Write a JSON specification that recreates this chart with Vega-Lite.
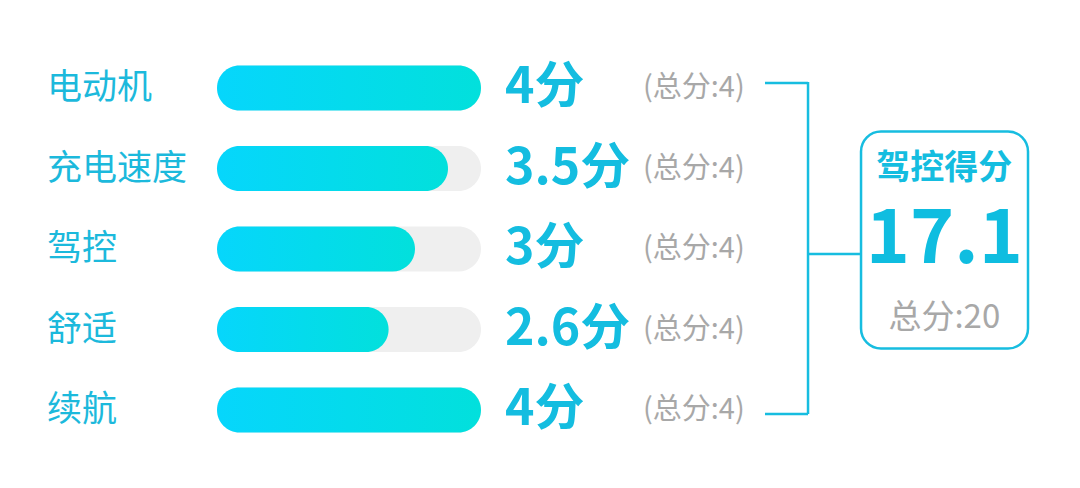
{
  "$schema": "https://vega.github.io/schema/vega-lite/v6.json",
  "width": 1080,
  "height": 488,
  "padding": 0,
  "autosize": "none",
  "background": "#ffffff",
  "config": {"view": {"stroke": null}, "font": "Noto Sans CJK SC"},
  "datasets": {
    "items": [
      {"item": "电动机", "score": 4, "total": 4, "scoreText": "4分", "totalText": "(总分:4)"},
      {"item": "充电速度", "score": 3.5, "total": 4, "scoreText": "3.5分", "totalText": "(总分:4)"},
      {"item": "驾控", "score": 3, "total": 4, "scoreText": "3分", "totalText": "(总分:4)"},
      {"item": "舒适", "score": 2.6, "total": 4, "scoreText": "2.6分", "totalText": "(总分:4)"},
      {"item": "续航", "score": 4, "total": 4, "scoreText": "4分", "totalText": "(总分:4)"}
    ],
    "summary": [
      {"title": "驾控得分", "score": 17.1, "total": 20, "totalText": "总分:20"}
    ]
  },
  "layer": [
    {
      "data": {"name": "items"},
      "mark": {"type": "bar", "height": 45, "cornerRadius": 22.5, "color": "#efefef"},
      "encoding": {
        "y": {"field": "item", "type": "nominal", "axis": null,
          "scale": {"type": "point", "padding": 0, "domain": ["电动机", "充电速度", "驾控", "舒适", "续航"], "range": [88, 410]}},
        "x": {"field": "total", "type": "quantitative", "axis": null, "scale": {"domain": [0, 4], "range": [217, 481]}},
        "x2": {"datum": 0}
      }
    },
    {
      "data": {"name": "items"},
      "mark": {"type": "bar", "height": 45, "cornerRadius": 22.5,
        "color": {"gradient": "linear", "x1": 0, "x2": 1, "y1": 0, "y2": 0,
          "stops": [{"offset": 0, "color": "#06d6fc"}, {"offset": 1, "color": "#02e0dc"}]}},
      "encoding": {
        "y": {"field": "item", "type": "nominal"},
        "x": {"field": "score", "type": "quantitative"},
        "x2": {"datum": 0}
      }
    },
    {
      "data": {"name": "items"},
      "mark": {"type": "text", "align": "left", "baseline": "middle", "dx": -170, "fontSize": 35, "color": "#1cb9dc"},
      "encoding": {
        "y": {"field": "item", "type": "nominal"},
        "x": {"datum": 0, "type": "quantitative"},
        "text": {"field": "item"}
      }
    },
    {
      "data": {"name": "items"},
      "mark": {"type": "text", "align": "left", "baseline": "middle", "dx": 24, "fontSize": 50, "fontWeight": "bold", "color": "#14bde0"},
      "encoding": {
        "y": {"field": "item", "type": "nominal"},
        "x": {"field": "total", "type": "quantitative"},
        "text": {"field": "scoreText"}
      }
    },
    {
      "data": {"name": "items"},
      "mark": {"type": "text", "align": "left", "baseline": "middle", "dx": 162, "fontSize": 29, "color": "#a8a8a8"},
      "encoding": {
        "y": {"field": "item", "type": "nominal"},
        "x": {"field": "total", "type": "quantitative"},
        "text": {"field": "totalText"}
      }
    },
    {
      "data": {"name": "summary"},
      "mark": {"type": "rule", "color": "#17bde0", "strokeWidth": 2.5, "yOffset": -5},
      "encoding": {
        "x": {"datum": 8.303, "type": "quantitative"},
        "x2": {"datum": 8.955},
        "y": {"datum": "电动机", "type": "nominal"}
      }
    },
    {
      "data": {"name": "summary"},
      "mark": {"type": "rule", "color": "#17bde0", "strokeWidth": 2.5, "yOffset": 4},
      "encoding": {
        "x": {"datum": 8.303, "type": "quantitative"},
        "x2": {"datum": 8.955},
        "y": {"datum": "续航", "type": "nominal"}
      }
    },
    {
      "data": {"name": "summary"},
      "mark": {"type": "rule", "color": "#17bde0", "strokeWidth": 2.5, "yOffset": -6, "y2Offset": 4},
      "encoding": {
        "x": {"datum": 8.955, "type": "quantitative"},
        "y": {"datum": "电动机", "type": "nominal"},
        "y2": {"datum": "续航"}
      }
    },
    {
      "data": {"name": "summary"},
      "mark": {"type": "rule", "color": "#17bde0", "strokeWidth": 2.5, "yOffset": 5},
      "encoding": {
        "x": {"datum": 8.955, "type": "quantitative"},
        "x2": {"datum": 9.742},
        "y": {"datum": "驾控", "type": "nominal"}
      }
    },
    {
      "data": {"name": "summary"},
      "mark": {"type": "rect", "fill": "#ffffff", "stroke": "#17bde0", "strokeWidth": 2.5, "cornerRadius": 20, "yOffset": -37, "y2Offset": 19},
      "encoding": {
        "x": {"datum": 9.758, "type": "quantitative"},
        "x2": {"datum": 12.288},
        "y": {"datum": "充电速度", "type": "nominal"},
        "y2": {"datum": "舒适"}
      }
    },
    {
      "data": {"name": "summary"},
      "mark": {"type": "text", "align": "center", "baseline": "middle", "fontSize": 34, "fontWeight": "bold", "color": "#14bde0"},
      "encoding": {
        "x": {"datum": 11.02, "type": "quantitative"},
        "y": {"datum": "充电速度", "type": "nominal"},
        "text": {"field": "title"}
      }
    },
    {
      "data": {"name": "summary"},
      "mark": {"type": "text", "align": "center", "baseline": "middle", "dy": -9, "fontSize": 75, "fontWeight": "bold", "color": "#0fbde0"},
      "encoding": {
        "x": {"datum": 11.02, "type": "quantitative"},
        "y": {"datum": "驾控", "type": "nominal"},
        "text": {"field": "score", "type": "quantitative", "format": ".1f"}
      }
    },
    {
      "data": {"name": "summary"},
      "mark": {"type": "text", "align": "center", "baseline": "middle", "dy": -12, "fontSize": 33, "color": "#a8a8a8"},
      "encoding": {
        "x": {"datum": 11.02, "type": "quantitative"},
        "y": {"datum": "舒适", "type": "nominal"},
        "text": {"field": "totalText"}
      }
    }
  ]
}
